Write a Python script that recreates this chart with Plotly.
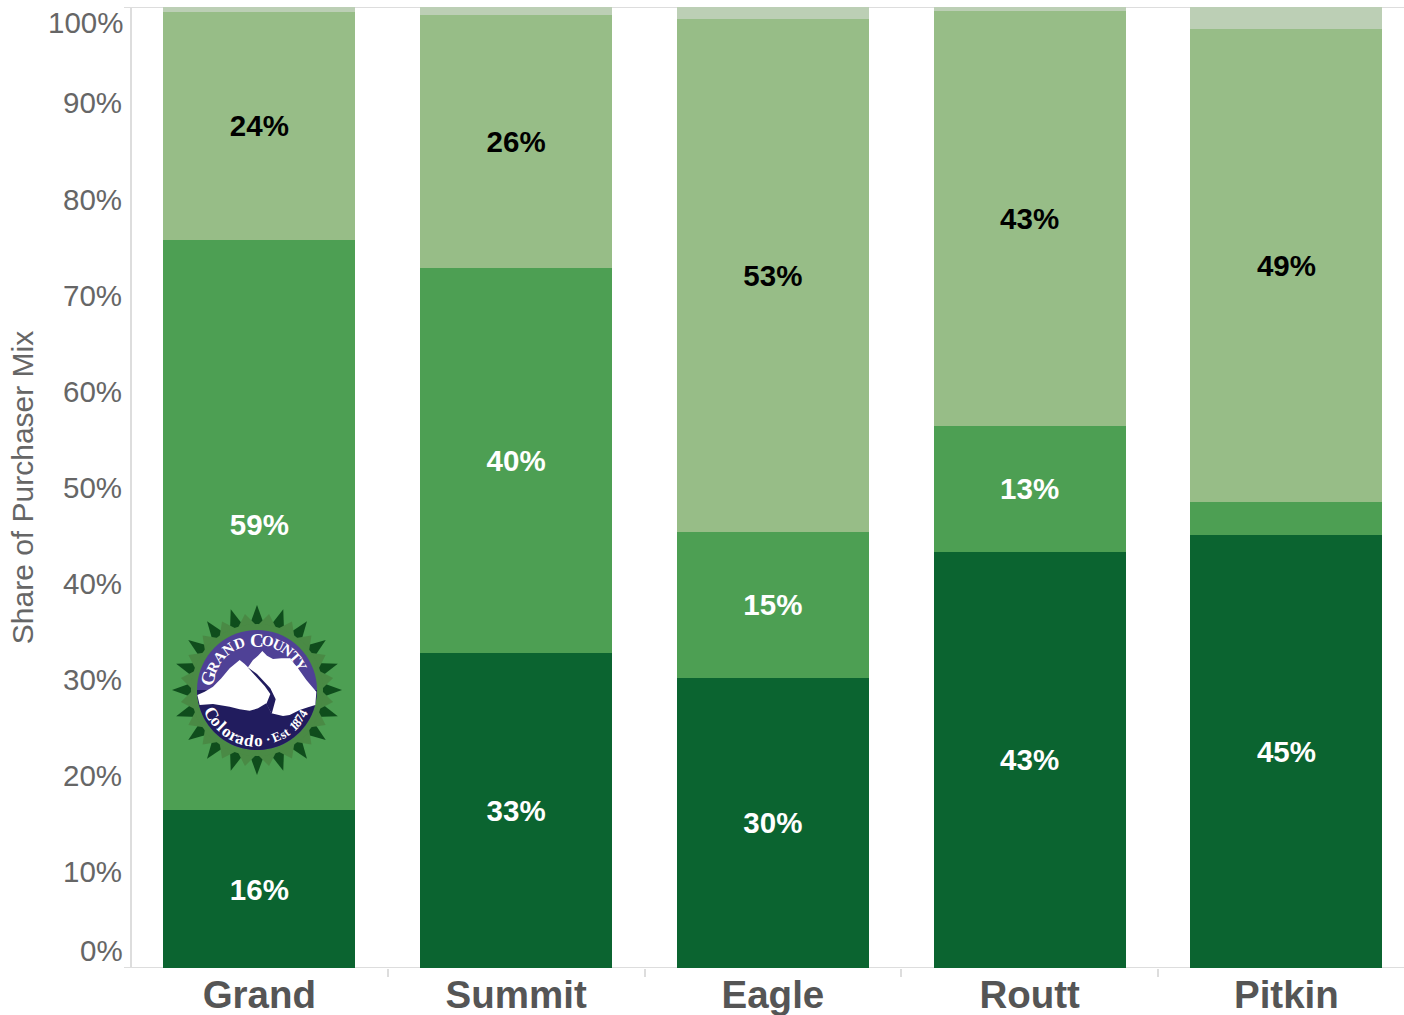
import math
import plotly.graph_objects as go

# ---------- data ----------
counties = ["Grand", "Summit", "Eagle", "Routt", "Pitkin"]
segment_1 = [16.4, 32.8, 30.2, 43.3, 45.1]
segment_2 = [59.4, 40.0, 15.2, 13.1, 3.4]
segment_3 = [23.7, 26.4, 53.4, 43.2, 49.2]
segment_4 = [0.5, 0.8, 1.2, 0.4, 2.3]
labels_1 = ["16%", "33%", "30%", "43%", "45%"]
labels_2 = ["59%", "40%", "15%", "13%", ""]
labels_3 = ["24%", "26%", "53%", "43%", "49%"]
y_ticks = [10, 20, 30, 40, 50, 60, 70, 80, 90]
y_tick_text = ["10%", "20%", "30%", "40%", "50%", "60%", "70%", "80%", "90%"]

# ---------- style ----------
W, H = 1404, 1015
ML, MR, MT, MB = 132, 0, 7, 47
FONT = "Liberation Sans"
COL1, COL2, COL3, COL4 = "#0b6430", "#4d9f53", "#97bd87", "#bccfb5"
AX = "#dddddd"
TXT = "#666666"

fig = go.Figure()
for vals, col, txt, tcol in [
    (segment_1, COL1, labels_1, "white"),
    (segment_2, COL2, labels_2, "white"),
    (segment_3, COL3, labels_3, "black"),
    (segment_4, COL4, None, "black"),
]:
    fig.add_bar(
        x=counties, y=vals, marker=dict(color=col, line=dict(width=0)),
        text=txt, textposition="inside" if txt else "none", insidetextanchor="middle",
        textangle=0, insidetextfont=dict(family=FONT, size=29.5, color=tcol, weight="bold"),
        showlegend=False,
    )


# ---------- logo helpers (pixel position -> paper) ----------
def px(x, y):
    return (x - ML) / (W - ML - MR), 1 - (y - MT) / (H - MT - MB)


CX, CY = 257, 690


def path(points):
    parts = []
    for i, (dx, dy) in enumerate(points):
        x, y = px(CX + dx, CY + dy)
        parts.append(("M" if i == 0 else "L") + f"{x:.5f},{y:.5f}")
    return " ".join(parts) + " Z"


def polar(r, a):
    return r * math.sin(math.radians(a)), -r * math.cos(math.radians(a))


def z(x, y):  # zoomed-crop reading relative to logo centre
    return (x - 322) / 3, (y - 300) / 3


shapes = []


def add_poly(points, col):
    shapes.append(dict(type="path", xref="paper", yref="paper", path=path(points),
                       fillcolor=col, line=dict(width=0), layer="above"))


for i in range(20):
    a = i * 18
    add_poly([polar(64, a - 7), polar(85, a), polar(64, a + 7)], "#0f4d1c")
for i in range(20):
    a = i * 18 + 9
    add_poly([polar(64, a - 9), polar(77, a), polar(64, a + 9)], "#4a8a45")
add_poly([polar(66, i * 5) for i in range(72)], "#4a8a45")
add_poly([polar(60, i * 5) for i in range(72)], "#4f4196")
# lower navy segment
add_poly([polar(60, a) for a in range(90, 272, 4)], "#211c5e")
# snow covered mountains
mountain = [(143, 315), (165, 305), (190, 290), (215, 265), (240, 235), (270, 210), (285, 222), (295, 232),
            (310, 210), (325, 197), (338, 183), (352, 197), (370, 207), (395, 205), (420, 205),
            (445, 235), (470, 270), (500, 305), (497, 345), (475, 352), (450, 360), (420, 375), (400, 378),
            (365, 370), (350, 340), (325, 355), (300, 362), (270, 358), (240, 350), (190, 342), (150, 345)]
add_poly([z(*p) for p in mountain], "white")
river = [(294, 232), (322, 252), (362, 295), (378, 328), (366, 372), (350, 342), (362, 312), (345, 288)]
add_poly([z(*p) for p in river], "#211c5e")

# axis lines that sit outside the bars
shapes.append(dict(type="line", xref="paper", yref="y", x0=-8 / (W - ML), x1=1, y0=0, y1=0,
                   line=dict(color=AX, width=2), layer="below"))
shapes.append(dict(type="line", xref="paper", yref="y", x0=-8 / (W - ML), x1=1, y0=100, y1=100,
                   line=dict(color=AX, width=2), layer="below"))

annotations = [
    dict(text="0%", xref="paper", yref="y", x=0, y=0, xanchor="right", yanchor="middle",
         xshift=-7, yshift=18, showarrow=False, font=dict(family=FONT, size=29.5, color=TXT)),
    dict(text="100%", xref="paper", yref="y", x=0, y=100, xanchor="right", yanchor="middle",
         xshift=-7, yshift=-15, showarrow=False, font=dict(family=FONT, size=29.5, color=TXT)),
]


def letter(ch, dx, dy, angle, size):
    x, y = px(CX + dx, CY + dy)
    annotations.append(dict(text=ch, xref="paper", yref="paper", x=x, y=y, xanchor="center", yanchor="middle",
                            showarrow=False, textangle=angle,
                            font=dict(family="Liberation Serif", size=size, color="white", weight="bold")))


top_letters = [("G", -76, 19), ("R", -62, 15), ("A", -49, 15), ("N", -35, 15), ("D", -20, 15),
               ("C", 0, 19), ("O", 13, 15), ("U", 25, 15), ("N", 37, 15), ("T", 49, 15), ("Y", 60, 15)]
for ch, a, s in top_letters:
    dx, dy = polar(50, a)
    letter(ch, dx, dy, a, s)

bottom_letters = [("C", -62, 18), ("o", -52, 17), ("l", -44, 17), ("o", -36, 17), ("r", -27, 17),
                  ("a", -19, 17), ("d", -9, 17), ("o", 2, 17), ("·", 13, 14), ("E", 23, 13),
                  ("s", 30, 13), ("t", 36, 13), ("1", 45, 13), ("8", 51, 13), ("7", 57, 13), ("4", 63, 13)]
for ch, a, s in bottom_letters:
    # position a is measured from the bottom, positive to the right
    dx = 51 * math.sin(math.radians(a))
    dy = 51 * math.cos(math.radians(a))
    letter(ch, dx, dy, -a, s)

fig.update_layout(
    width=W, height=H, margin=dict(l=ML, r=MR, t=MT, b=MB, autoexpand=False),
    paper_bgcolor="white", plot_bgcolor="white",
    barmode="stack", bargap=0.252,
    shapes=shapes, annotations=annotations,
    xaxis=dict(
        type="category", range=[-0.496, 4.458], tickson="boundaries", ticks="outside", ticklen=8, tickwidth=2,
        tickcolor=AX, showgrid=False, zeroline=False, showline=False, ticklabelstandoff=0, ticklabelshift=0,
        tickfont=dict(family=FONT, size=38.5, color="#555555", weight="bold"),
    ),
    yaxis=dict(
        range=[0, 100], tickvals=y_ticks, ticktext=y_tick_text, ticks="", showgrid=False, zeroline=False,
        showline=True, linecolor=AX, linewidth=2, ticklabelstandoff=2,
        tickfont=dict(family=FONT, size=29.5, color=TXT),
        title=dict(text="Share of Purchaser Mix", standoff=21, font=dict(family=FONT, size=30, color=TXT)),
    ),
)

fig.write_html("out.html", config=dict(displayModeBar=False),
               post_script="document.body.style.margin='0';document.body.style.overflow='hidden';")
